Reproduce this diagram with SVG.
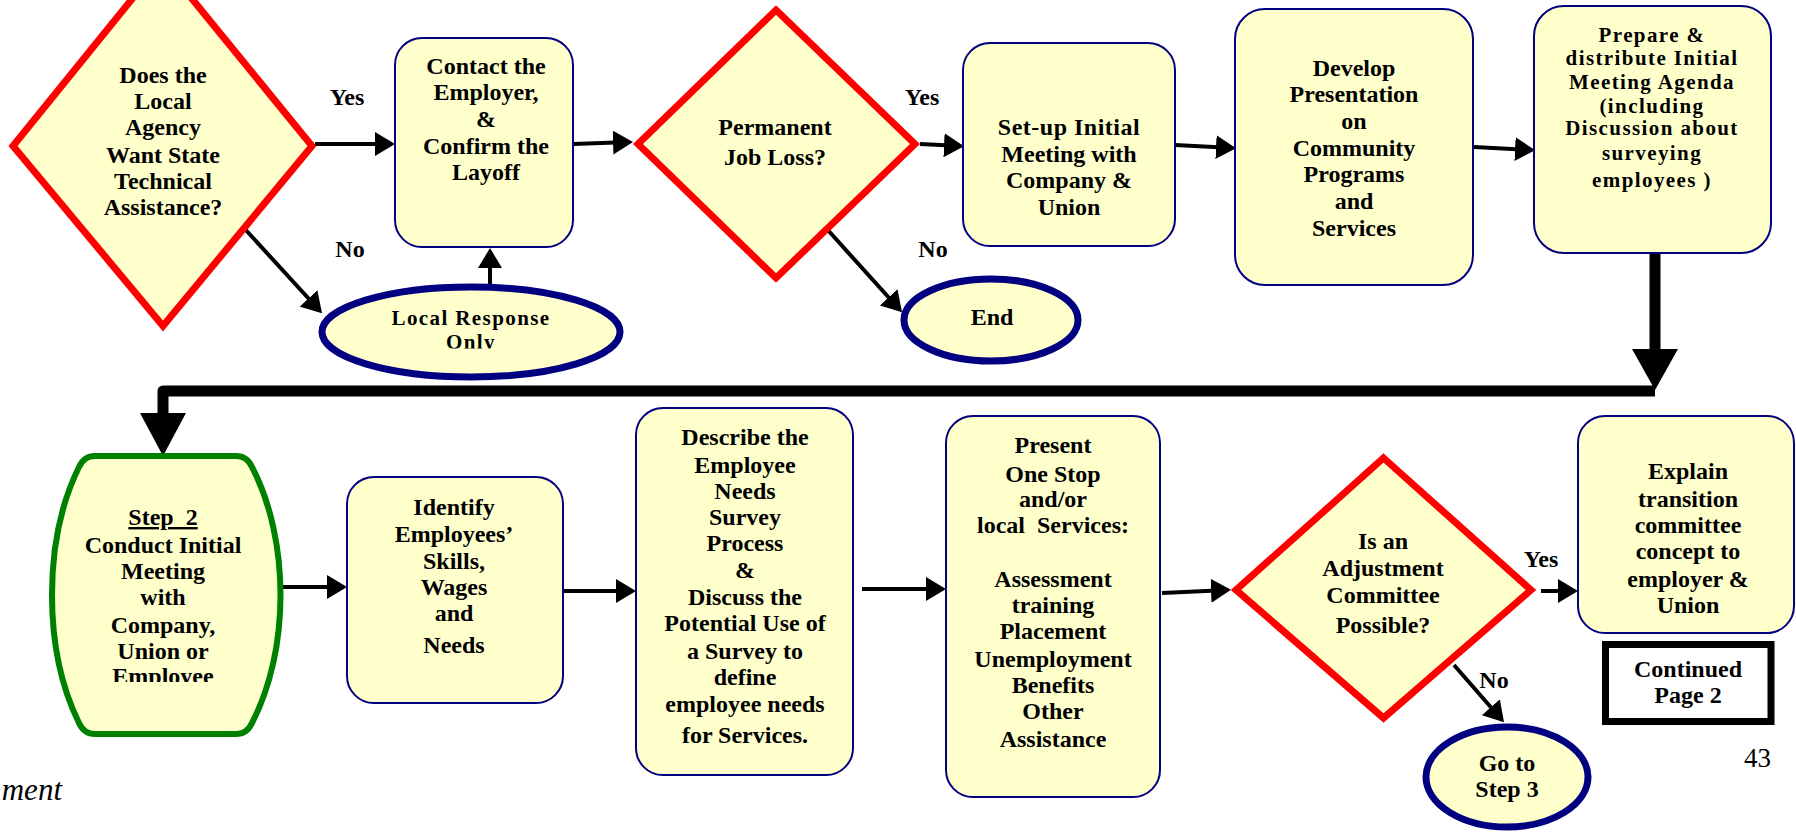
<svg xmlns="http://www.w3.org/2000/svg" width="1796" height="833" viewBox="0 0 1796 833">
<style>
text{font-family:"Liberation Serif","Times New Roman",serif;font-weight:bold;font-size:24px;fill:#000;text-anchor:middle}
.box{fill:#FFFFCC;stroke:#000080;stroke-width:2}
.dia{fill:#FFFFCC;stroke:#FF0000;stroke-width:7}
.term{fill:#FFFFCC;stroke:#000080;stroke-width:7}
.ln{fill:none;stroke:#000;stroke-width:4}
.thick{fill:none;stroke:#000;stroke-width:11;stroke-linejoin:round}
.sp{font-size:21px;letter-spacing:1.4px}
.lbl{font-size:24px}
</style>
<defs>
<marker id="ah" viewBox="0 0 20 24" refX="17" refY="12" markerWidth="20" markerHeight="24" markerUnits="userSpaceOnUse" orient="auto">
<path d="M0,0 L20,12 L0,24 z" fill="#000"/>
</marker>
<clipPath id="clipOnly"><rect x="300" y="270" width="340" height="78.5"/></clipPath>
<clipPath id="clipEmp"><rect x="40" y="450" width="250" height="232"/></clipPath>
</defs>

<g id="connectors">
<path class="ln" d="M315,144 L392,144" marker-end="url(#ah)"/>
<path class="ln" d="M244,228 L320,311" marker-end="url(#ah)"/>
<path class="ln" d="M490,287 L490,251" marker-end="url(#ah)"/>
<path class="ln" d="M573,144 L630,142" marker-end="url(#ah)"/>
<path class="ln" d="M920,144 L961,146" marker-end="url(#ah)"/>
<path class="ln" d="M826,228 L900,310" marker-end="url(#ah)"/>
<path class="ln" d="M1175,145 L1233,148" marker-end="url(#ah)"/>
<path class="ln" d="M1474,147 L1532,150" marker-end="url(#ah)"/>
<path class="thick" d="M1655,250 L1655,352"/>
<polygon points="1632,349 1678,349 1655,390" fill="#000"/>
<path class="thick" d="M1655,391 L163,391 L163,416"/>
<polygon points="140,413 186,413 163,456" fill="#000"/>
<path class="ln" d="M278,587 L344,587" marker-end="url(#ah)"/>
<path class="ln" d="M562,591 L633,591" marker-end="url(#ah)"/>
<path class="ln" d="M862,589 L943,589" marker-end="url(#ah)"/>
<path class="ln" d="M1162,593 L1228,590" marker-end="url(#ah)"/>
<path class="ln" d="M1541,591 L1575,591" marker-end="url(#ah)"/>
<path class="ln" d="M1454,665 L1502,720" marker-end="url(#ah)"/>
<text class="lbl" x="347" y="105">Yes</text>
<text class="lbl" x="350" y="257">No</text>
<text class="lbl" x="922" y="105">Yes</text>
<text class="lbl" x="933" y="257">No</text>
<text class="lbl" x="1541" y="567">Yes</text>
<text class="lbl" x="1494" y="688">No</text>
</g>

<g id="n_local_agency">
<polygon class="dia" points="162,-38 312,146 163,326 13,146"/>
<text x="163" y="83">Does the</text>
<text x="163" y="109">Local</text>
<text x="163" y="135">Agency</text>
<text x="163" y="163">Want State</text>
<text x="163" y="189">Technical</text>
<text x="163" y="215">Assistance?</text>
</g>

<g id="n_contact">
<rect class="box" x="395" y="38" width="178" height="209" rx="27"/>
<text x="486" y="74">Contact the</text>
<text x="486" y="100">Employer,</text>
<text x="486" y="127">&amp;</text>
<text x="486" y="154">Confirm the</text>
<text x="486" y="180">Layoff</text>
</g>

<g id="n_local_response">
<ellipse class="term" cx="471" cy="332" rx="149" ry="45"/>
<g clip-path="url(#clipOnly)">
<text class="sp" x="471" y="325">Local Response</text>
<text class="sp" x="471" y="349">Only</text>
</g>
</g>

<g id="n_permanent">
<polygon class="dia" points="776,10 915,144 776,278 638,144"/>
<text x="775" y="135">Permanent</text>
<text x="775" y="165">Job Loss?</text>
</g>

<g id="n_end">
<ellipse class="term" cx="991" cy="320" rx="87" ry="41"/>
<text x="992" y="325">End</text>
</g>

<g id="n_setup">
<rect class="box" x="963" y="43" width="212" height="203" rx="27"/>
<text x="1069" y="135" style="letter-spacing:0.5px">Set-up Initial</text>
<text x="1069" y="162">Meeting with</text>
<text x="1069" y="188">Company &amp;</text>
<text x="1069" y="215">Union</text>
</g>

<g id="n_develop">
<rect class="box" x="1235" y="9" width="238" height="276" rx="30"/>
<text x="1354" y="76">Develop</text>
<text x="1354" y="102">Presentation</text>
<text x="1354" y="129">on</text>
<text x="1354" y="156">Community</text>
<text x="1354" y="182">Programs</text>
<text x="1354" y="209">and</text>
<text x="1354" y="236">Services</text>
</g>

<g id="n_prepare">
<rect class="box" x="1534" y="6" width="237" height="247" rx="30"/>
<text class="sp" x="1652" y="42">Prepare &amp;</text>
<text class="sp" x="1652" y="65">distribute Initial</text>
<text class="sp" x="1652" y="89">Meeting Agenda</text>
<text class="sp" x="1652" y="113">(including</text>
<text class="sp" x="1652" y="135">Discussion about</text>
<text class="sp" x="1652" y="160">surveying</text>
<text class="sp" x="1652" y="187">employees )</text>
</g>

<g id="n_step2">
<path d="M95,456 H236 Q247,456 252,467 C290,540 290,650 252,723 Q247,734 236,734 H95 Q84,734 79,723 C43,650 43,540 79,467 Q84,456 95,456 Z" fill="#FFFFCC" stroke="#008000" stroke-width="6"/>
<text x="163" y="525" style="text-decoration:underline;white-space:pre">Step  2</text>
<text x="163" y="553">Conduct Initial</text>
<text x="163" y="579">Meeting</text>
<text x="163" y="605">with</text>
<text x="163" y="633">Company,</text>
<text x="163" y="659">Union or</text>
<text x="163" y="684" clip-path="url(#clipEmp)">Employee</text>
</g>

<g id="n_identify">
<rect class="box" x="347" y="477" width="216" height="226" rx="27"/>
<text x="454" y="515">Identify</text>
<text x="454" y="542">Employees’</text>
<text x="454" y="569">Skills,</text>
<text x="454" y="595">Wages</text>
<text x="454" y="621">and</text>
<text x="454" y="653">Needs</text>
</g>

<g id="n_describe">
<rect class="box" x="636" y="408" width="217" height="367" rx="27"/>
<text x="745" y="445">Describe the</text>
<text x="745" y="473">Employee</text>
<text x="745" y="499">Needs</text>
<text x="745" y="525">Survey</text>
<text x="745" y="551">Process</text>
<text x="745" y="578">&amp;</text>
<text x="745" y="605">Discuss the</text>
<text x="745" y="631">Potential Use of</text>
<text x="745" y="659">a Survey to</text>
<text x="745" y="685">define</text>
<text x="745" y="712">employee needs</text>
<text x="745" y="743">for Services.</text>
</g>

<g id="n_present">
<rect class="box" x="946" y="416" width="214" height="381" rx="27"/>
<text x="1053" y="453">Present</text>
<text x="1053" y="482">One Stop</text>
<text x="1053" y="507">and/or</text>
<text x="1053" y="533" style="white-space:pre">local  Services:</text>
<text x="1053" y="587">Assessment</text>
<text x="1053" y="613">training</text>
<text x="1053" y="639">Placement</text>
<text x="1053" y="667">Unemployment</text>
<text x="1053" y="693">Benefits</text>
<text x="1053" y="719">Other</text>
<text x="1053" y="747">Assistance</text>
</g>

<g id="n_adjustment">
<polygon class="dia" points="1383.5,458 1531,590 1383.5,718 1236,590"/>
<text x="1383" y="549">Is an</text>
<text x="1383" y="576">Adjustment</text>
<text x="1383" y="603">Committee</text>
<text x="1383" y="633">Possible?</text>
</g>

<g id="n_explain">
<rect class="box" x="1578" y="416" width="216" height="217" rx="27"/>
<text x="1688" y="479">Explain</text>
<text x="1688" y="507">transition</text>
<text x="1688" y="533">committee</text>
<text x="1688" y="559">concept to</text>
<text x="1688" y="587">employer &amp;</text>
<text x="1688" y="613">Union</text>
</g>

<g id="n_continued">
<rect x="1605.5" y="644.5" width="165.5" height="77" fill="#FFFFFF" stroke="#000" stroke-width="7"/>
<text x="1688" y="677">Continued</text>
<text x="1688" y="703">Page 2</text>
</g>

<g id="n_goto">
<ellipse class="term" cx="1507" cy="777" rx="81" ry="50"/>
<text x="1507" y="771">Go to</text>
<text x="1507" y="797">Step 3</text>
</g>

<text x="1744" y="767" style="font-weight:normal;font-size:27px;text-anchor:start">43</text>
<text x="62" y="800" style="font-weight:normal;font-style:italic;font-size:31px;text-anchor:end">ment</text>
</svg>
